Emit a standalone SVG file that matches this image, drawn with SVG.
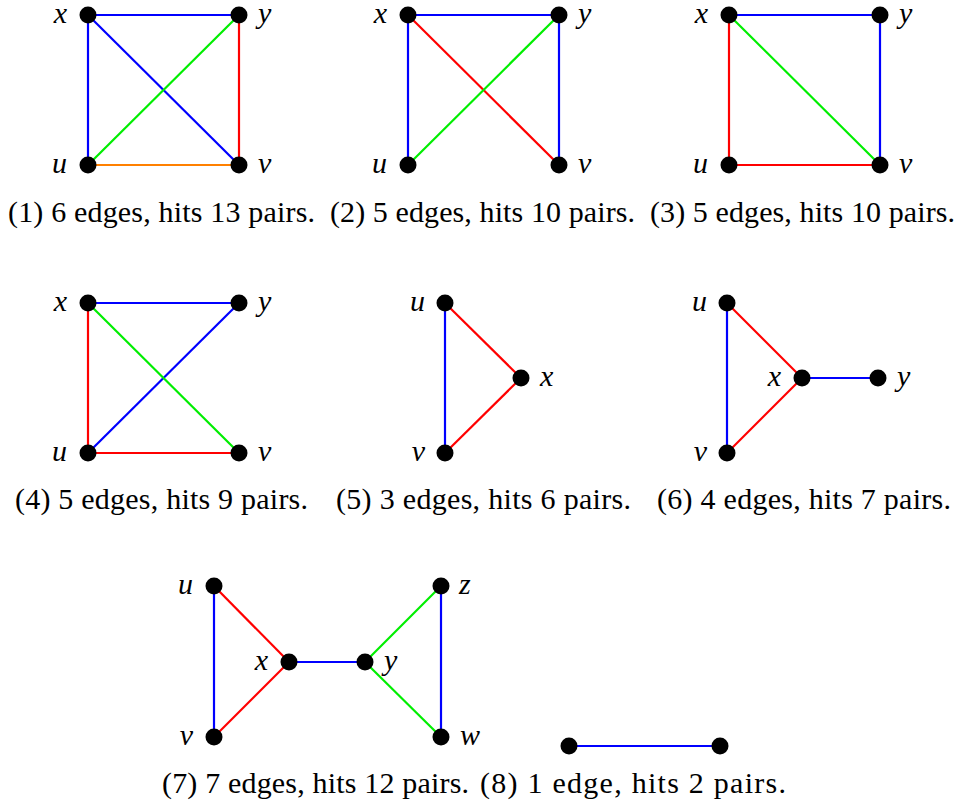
<svg xmlns="http://www.w3.org/2000/svg" width="964" height="805" viewBox="0 0 964 805">
<style>
.e{stroke-width:2.2;fill:none}
.b{stroke:#0000ff}.g{stroke:#00ee00}.r{stroke:#ff0000}.o{stroke:#ff8000}
.n{fill:#000}
.l{font-family:"Liberation Serif","DejaVu Serif",serif;font-style:italic;font-size:30px;fill:#000}
.le{text-anchor:end}
.c{font-family:"Liberation Serif","DejaVu Serif",serif;font-size:30px;fill:#000}
</style>
<rect width="964" height="805" fill="#fff"/>
<g id="connectors">
<!-- P1 -->
<line class="e b" x1="88" y1="15" x2="239" y2="15"/>
<line class="e b" x1="88" y1="15" x2="88" y2="165"/>
<line class="e b" x1="88" y1="15" x2="239" y2="165"/>
<line class="e g" x1="88" y1="165" x2="239" y2="15"/>
<line class="e r" x1="239" y1="15" x2="239" y2="165"/>
<line class="e o" x1="88" y1="165" x2="239" y2="165"/>
<!-- P2 -->
<line class="e b" x1="408" y1="15" x2="559" y2="15"/>
<line class="e b" x1="408" y1="15" x2="408" y2="165"/>
<line class="e b" x1="559" y1="15" x2="559" y2="165"/>
<line class="e r" x1="408" y1="15" x2="559" y2="165"/>
<line class="e g" x1="408" y1="165" x2="559" y2="15"/>
<!-- P3 -->
<line class="e b" x1="729" y1="15" x2="880" y2="15"/>
<line class="e b" x1="880" y1="15" x2="880" y2="165"/>
<line class="e r" x1="729" y1="15" x2="729" y2="165"/>
<line class="e r" x1="729" y1="165" x2="880" y2="165"/>
<line class="e g" x1="729" y1="15" x2="880" y2="165"/>
<!-- P4 -->
<line class="e b" x1="88" y1="303" x2="239" y2="303"/>
<line class="e b" x1="88" y1="453" x2="239" y2="303"/>
<line class="e r" x1="88" y1="303" x2="88" y2="453"/>
<line class="e r" x1="88" y1="453" x2="239" y2="453"/>
<line class="e g" x1="88" y1="303" x2="239" y2="453"/>
<!-- P5 -->
<line class="e b" x1="445" y1="303" x2="445" y2="453"/>
<line class="e r" x1="445" y1="303" x2="521" y2="378"/>
<line class="e r" x1="521" y1="378" x2="445" y2="453"/>
<!-- P6 -->
<line class="e b" x1="727" y1="303" x2="727" y2="453"/>
<line class="e r" x1="727" y1="303" x2="802" y2="378"/>
<line class="e r" x1="802" y1="378" x2="727" y2="453"/>
<line class="e b" x1="802" y1="378" x2="878" y2="378"/>
<!-- P7 -->
<line class="e b" x1="214" y1="586" x2="214" y2="737"/>
<line class="e r" x1="214" y1="586" x2="289" y2="662"/>
<line class="e r" x1="289" y1="662" x2="214" y2="737"/>
<line class="e b" x1="289" y1="662" x2="365" y2="662"/>
<line class="e g" x1="365" y1="662" x2="441" y2="586"/>
<line class="e g" x1="365" y1="662" x2="441" y2="737"/>
<line class="e b" x1="441" y1="586" x2="441" y2="737"/>
<!-- P8 -->
<line class="e b" x1="569" y1="746" x2="720" y2="746"/>
</g>
<g id="p1">
<circle class="n" cx="88" cy="15" r="8.5"/><circle class="n" cx="239" cy="15" r="8.5"/>
<circle class="n" cx="88" cy="165" r="8.5"/><circle class="n" cx="239" cy="165" r="8.5"/>
<text class="l le" x="67" y="23">x</text><text class="l" x="258" y="23">y</text>
<text class="l le" x="67" y="173">u</text><text class="l" x="258" y="173">v</text>
<text class="c" x="8" y="222" textLength="307" lengthAdjust="spacing">(1) 6 edges, hits 13 pairs.</text>
</g>
<g id="p2">
<circle class="n" cx="408" cy="15" r="8.5"/><circle class="n" cx="559" cy="15" r="8.5"/>
<circle class="n" cx="408" cy="165" r="8.5"/><circle class="n" cx="559" cy="165" r="8.5"/>
<text class="l le" x="387" y="23">x</text><text class="l" x="578" y="23">y</text>
<text class="l le" x="387" y="173">u</text><text class="l" x="578" y="173">v</text>
<text class="c" x="330" y="222" textLength="305" lengthAdjust="spacing">(2) 5 edges, hits 10 pairs.</text>
</g>
<g id="p3">
<circle class="n" cx="729" cy="15" r="8.5"/><circle class="n" cx="880" cy="15" r="8.5"/>
<circle class="n" cx="729" cy="165" r="8.5"/><circle class="n" cx="880" cy="165" r="8.5"/>
<text class="l le" x="708" y="23">x</text><text class="l" x="899" y="23">y</text>
<text class="l le" x="708" y="173">u</text><text class="l" x="899" y="173">v</text>
<text class="c" x="650" y="222" textLength="305" lengthAdjust="spacing">(3) 5 edges, hits 10 pairs.</text>
</g>
<g id="p4">
<circle class="n" cx="88" cy="303" r="8.5"/><circle class="n" cx="239" cy="303" r="8.5"/>
<circle class="n" cx="88" cy="453" r="8.5"/><circle class="n" cx="239" cy="453" r="8.5"/>
<text class="l le" x="67" y="311">x</text><text class="l" x="258" y="311">y</text>
<text class="l le" x="67" y="461">u</text><text class="l" x="258" y="461">v</text>
<text class="c" x="15" y="509" textLength="293" lengthAdjust="spacing">(4) 5 edges, hits 9 pairs.</text>
</g>
<g id="p5">
<circle class="n" cx="445" cy="303" r="8.5"/><circle class="n" cx="521" cy="378" r="8.5"/>
<circle class="n" cx="445" cy="453" r="8.5"/>
<text class="l le" x="425" y="311">u</text><text class="l" x="540" y="386">x</text>
<text class="l le" x="425" y="461">v</text>
<text class="c" x="336" y="509" textLength="295" lengthAdjust="spacing">(5) 3 edges, hits 6 pairs.</text>
</g>
<g id="p6">
<circle class="n" cx="727" cy="303" r="8.5"/><circle class="n" cx="802" cy="378" r="8.5"/>
<circle class="n" cx="878" cy="378" r="8.5"/><circle class="n" cx="727" cy="453" r="8.5"/>
<text class="l le" x="707" y="311">u</text><text class="l le" x="781" y="386">x</text>
<text class="l" x="897" y="386">y</text><text class="l le" x="707" y="461">v</text>
<text class="c" x="657" y="509" textLength="294" lengthAdjust="spacing">(6) 4 edges, hits 7 pairs.</text>
</g>
<g id="p7">
<circle class="n" cx="214" cy="586" r="8.5"/><circle class="n" cx="289" cy="662" r="8.5"/>
<circle class="n" cx="214" cy="737" r="8.5"/><circle class="n" cx="365" cy="662" r="8.5"/>
<circle class="n" cx="441" cy="586" r="8.5"/><circle class="n" cx="441" cy="737" r="8.5"/>
<text class="l le" x="193" y="594">u</text><text class="l le" x="268" y="670">x</text>
<text class="l le" x="193" y="745">v</text><text class="l" x="384" y="670">y</text>
<text class="l" x="459" y="594">z</text><text class="l" x="460" y="745">w</text>
<text class="c" x="162" y="793" textLength="307" lengthAdjust="spacing">(7) 7 edges, hits 12 pairs.</text>
</g>
<g id="p8">
<circle class="n" cx="569" cy="746" r="8.5"/><circle class="n" cx="720" cy="746" r="8.5"/>
<text class="c" x="480" y="793" textLength="306" lengthAdjust="spacing">(8) 1 edge, hits 2 pairs.</text>
</g>
</svg>
